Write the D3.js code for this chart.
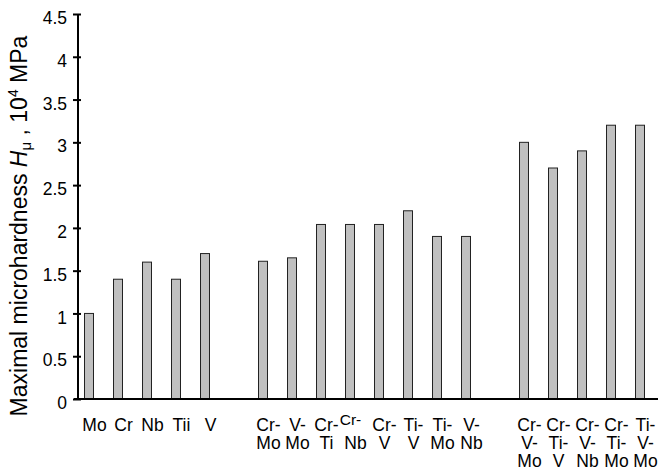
<!DOCTYPE html>
<html>
<head>
<meta charset="utf-8">
<script src="https://cdn.jsdelivr.net/npm/d3@7"></script>
<style>
  body { margin: 0; background: #fff; }
  text { font-family: "Liberation Sans", Arial, sans-serif; fill: #000; }
</style>
</head>
<body>
<div id="chart"></div>
<script>
// settings
var svgWidth = 659;
var svgHeight = 470;

// data: each alloy system, "" = empty slot between groups
var categories = ["Mo", "Cr", "Nb", "Tii", "V", "",
	"Cr-Mo", "V-Mo", "Cr-Ti", "Cr-Nb", "Cr-V", "Ti-V", "Ti-Mo", "V-Nb", "",
	"Cr-V-Mo", "Cr-Ti-V", "Cr-V-Nb", "Cr-Ti-Mo", "Ti-V-Mo"];
var hardness = [1.0, 1.4, 1.6, 1.4, 1.7, null,
	1.61, 1.65, 2.04, 2.04, 2.04, 2.2, 1.9, 1.9, null,
	3.0, 2.7, 2.9, 3.2, 3.2];
var yTicks = [0, 0.5, 1, 1.5, 2, 2.5, 3, 3.5, 4, 4.5];

var svg = d3.select("#chart")
	.append("svg")
	.attr("width", svgWidth)
	.attr("height", svgHeight);

var slots = categories.map((c, i) => i);

var x = d3.scaleBand()
	.domain(slots)
	.range([74.5, 654.5])
	.paddingInner(0.69)
	.paddingOuter(0.345);

var y = d3.scaleLinear()
	.domain([0, 4.5])
	.range([399, 14]);

// bars
svg.append("g")
	.selectAll("rect")
	.data(slots.filter(i => hardness[i] !== null))
	.enter()
	.append("rect")
	.attr("x", i => x(i))
	.attr("y", i => y(hardness[i]))
	.attr("width", x.bandwidth())
	.attr("height", i => y(0) - y(hardness[i]))
	.attr("fill", "#c0c0c0")
	.attr("stroke", "#222")
	.attr("stroke-width", 1);

// y axis
var yAxis = svg.append("g")
	.attr("transform", "translate(78,0)")
	.call(d3.axisLeft(y).tickValues(yTicks).tickSize(5).tickPadding(6).tickFormat(d3.format("")));
yAxis.select(".domain").attr("stroke-width", 2).attr("d", "M0,14V399");
yAxis.selectAll(".tick line").attr("stroke-width", 2).attr("x1", 3);
yAxis.selectAll(".tick text")
	.attr("font-size", "17.5px")
	.attr("font-family", "Liberation Sans, Arial, sans-serif")
	.attr("dy", "0.55em");

// x axis line
svg.append("line")
	.attr("x1", 74).attr("x2", 658)
	.attr("y1", y(0)).attr("y2", y(0))
	.attr("stroke", "#000")
	.attr("stroke-width", 2);

// x labels, one line per element
var labels = svg.append("g");
categories.forEach(function (c, i) {
	if (!c) return;
	var parts = c.split("-");
	var cx = x(i) + x.bandwidth() / 2 + 5.5;
	parts.forEach(function (p, k) {
		var t = p + (k < parts.length - 1 ? "-" : "");
		var small = (c === "Cr-Nb" && k === 0);
		labels.append("text")
			.attr("x", small ? cx - 5 : cx)
			.attr("y", small ? 425 : 430.5 + k * 18.3)
			.attr("text-anchor", "middle")
			.attr("font-size", small ? "15.5px" : "17.5px")
			.text(t);
	});
});

// y axis title
var title = svg.append("text")
	.attr("transform", "translate(27,226) rotate(-90)")
	.attr("text-anchor", "middle")
	.attr("font-size", "23px");
title.append("tspan").text("Maximal microhardness ");
title.append("tspan").attr("font-style", "italic").text("H");
title.append("tspan").attr("font-size", "15px").attr("dy", 4).text("\u03bc");
title.append("tspan").attr("dy", -4).text(" , 10");
title.append("tspan").attr("font-size", "14px").attr("dy", -9).text("4");
title.append("tspan").attr("dy", 9).text(" MPa");
</script>
</body>
</html>
